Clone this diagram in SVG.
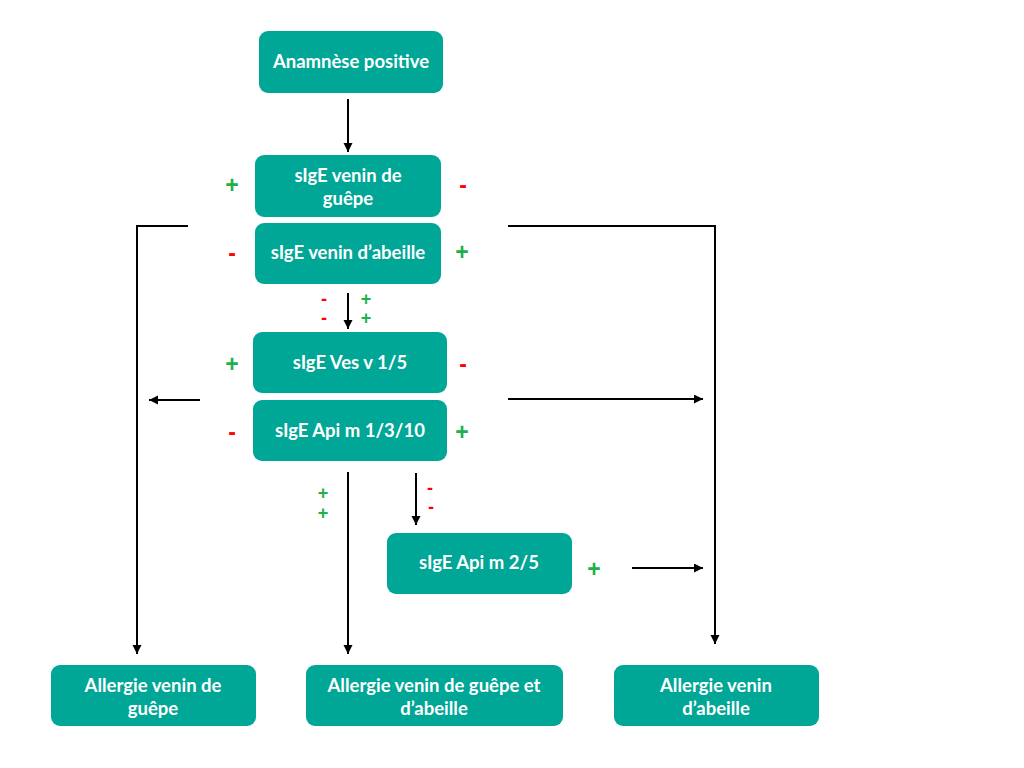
<svg xmlns="http://www.w3.org/2000/svg" width="1024" height="768" viewBox="0 0 1024 768">
<defs>
<style>
.box{fill:#00A696;}
.t{font-family:Lato,"Open Sans","Liberation Sans",sans-serif;font-weight:bold;font-size:18.5px;fill:#ffffff;text-anchor:middle;}
.c{fill:none;stroke:#000000;stroke-width:2;}
.p{font-family:"Liberation Sans",Arial,sans-serif;font-weight:bold;font-size:23px;fill:#22B04B;text-anchor:middle;}
.m{font-family:"Liberation Sans",Arial,sans-serif;font-weight:bold;font-size:23px;fill:#FF0000;text-anchor:middle;}
.s{font-size:18px;}
</style>
<marker id="ah" markerWidth="10" markerHeight="10" refX="9" refY="4.5" orient="auto" markerUnits="userSpaceOnUse">
<path d="M0,0 L9,4.5 L0,9 Z" fill="#000000"/>
</marker>
</defs>
<rect width="1024" height="768" fill="#ffffff"/>

<g id="connectors">
<path class="c" d="M348,99 L348,152" marker-end="url(#ah)"/>
<path class="c" d="M188,226 L137,226 L137,654" marker-end="url(#ah)"/>
<path class="c" d="M508,226 L715,226 L715,644" marker-end="url(#ah)"/>
<path class="c" d="M348,293 L348,329" marker-end="url(#ah)"/>
<path class="c" d="M200,400 L149,400" marker-end="url(#ah)"/>
<path class="c" d="M508,399 L703,399" marker-end="url(#ah)"/>
<path class="c" d="M348,472 L348,654" marker-end="url(#ah)"/>
<path class="c" d="M416,473 L416,525" marker-end="url(#ah)"/>
<path class="c" d="M632,568 L703,568" marker-end="url(#ah)"/>
</g>

<g id="n-anamnese">
<rect class="box" x="259" y="31" width="184" height="62" rx="9"/>
<text class="t" x="351" y="68">Anamnèse positive</text>
</g>
<g id="n-guepe">
<rect class="box" x="255" y="155" width="186" height="62" rx="9"/>
<text class="t" x="348" y="182">sIgE venin de</text>
<text class="t" x="348" y="205">guêpe</text>
</g>
<g id="n-abeille">
<rect class="box" x="255" y="223" width="186" height="61" rx="9"/>
<text class="t" x="348" y="259">sIgE venin d’abeille</text>
</g>
<g id="n-vesv">
<rect class="box" x="253" y="332" width="194" height="61" rx="9"/>
<text class="t" x="350" y="369">sIgE Ves v 1/5</text>
</g>
<g id="n-apim1">
<rect class="box" x="253" y="400" width="194" height="61" rx="9"/>
<text class="t" x="350" y="437">sIgE Api m 1/3/10</text>
</g>
<g id="n-apim2">
<rect class="box" x="387" y="533" width="185" height="61" rx="9"/>
<text class="t" x="479" y="569">sIgE Api m 2/5</text>
</g>
<g id="n-allergie-guepe">
<rect class="box" x="51" y="665" width="205" height="61" rx="9"/>
<text class="t" x="153" y="692">Allergie venin de</text>
<text class="t" x="153" y="715">guêpe</text>
</g>
<g id="n-allergie-both">
<rect class="box" x="306" y="665" width="257" height="61" rx="9"/>
<text class="t" x="434" y="692">Allergie venin de guêpe et</text>
<text class="t" x="434" y="715">d’abeille</text>
</g>
<g id="n-allergie-abeille">
<rect class="box" x="614" y="665" width="205" height="61" rx="9"/>
<text class="t" x="716" y="692">Allergie venin</text>
<text class="t" x="716" y="715">d’abeille</text>
</g>

<g id="signs">
<text class="p" x="232" y="193">+</text>
<text class="m" x="463" y="193">-</text>
<text class="m" x="232" y="261">-</text>
<text class="p" x="462" y="260">+</text>
<text class="m s" x="324" y="305">-</text>
<text class="m s" x="324" y="324">-</text>
<text class="p s" x="366" y="305">+</text>
<text class="p s" x="366" y="324">+</text>
<text class="p" x="232" y="372">+</text>
<text class="m" x="463" y="372">-</text>
<text class="m" x="232" y="440">-</text>
<text class="p" x="462" y="440">+</text>
<text class="p s" x="323" y="499">+</text>
<text class="p s" x="323" y="519">+</text>
<text class="m s" x="430" y="494">-</text>
<text class="m s" x="431" y="513">-</text>
<text class="p" x="594" y="577">+</text>
</g>
</svg>
